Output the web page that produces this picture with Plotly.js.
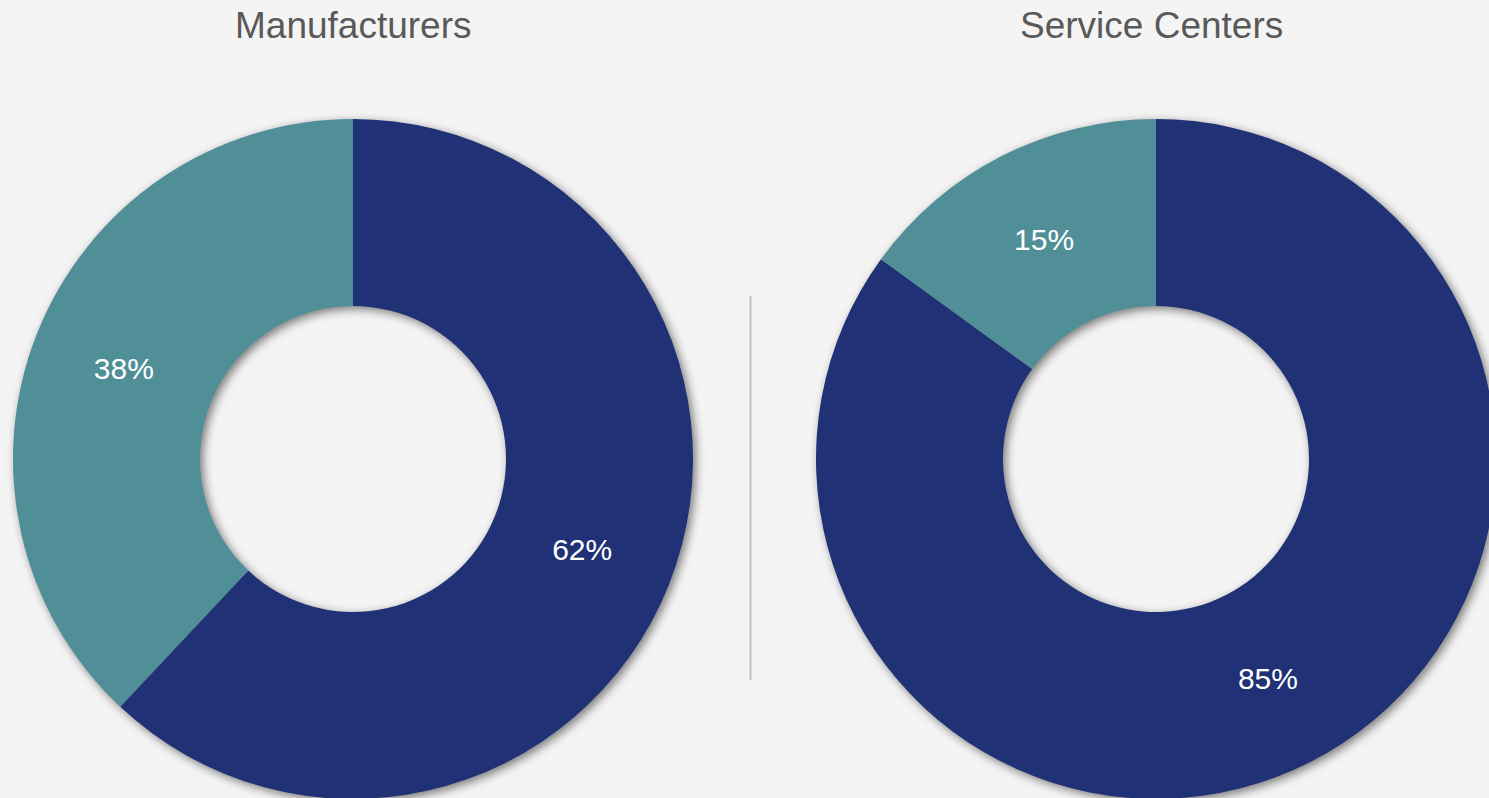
<!DOCTYPE html>
<html>
<head>
<meta charset="utf-8">
<script src="https://cdn.plot.ly/plotly-3.0.1.min.js"></script>
<style>
  html, body { margin: 0; padding: 0; overflow: hidden; background: #f4f4f4; }
  #chart { width: 1500px; height: 800px; }
</style>
</head>
<body>
<div id="chart"></div>
<script>
// ---- data ----
const chartTitles = ["Manufacturers", "Service Centers"];
const sliceLabels = ["Yes", "No"];
const manufacturersValues = [62, 38];
const serviceCentersValues = [85, 15];
const sliceColors = ["#203275", "#518F98"];

const W = 1500, H = 800;
const donuts = [
  { values: manufacturersValues, title: chartTitles[0], cx: 353, titleX: 353, cy: 459, r: 340 },
  { values: serviceCentersValues, title: chartTitles[1], cx: 1156, titleX: 1151.5, cy: 459, r: 340 }
];

const traces = [];
const annotations = [];
donuts.forEach(d => {
  const domain = {
    x: [(d.cx - d.r) / W, (d.cx + d.r) / W],
    y: [Math.max(0, 1 - (d.cy + d.r) / H), 1 - (d.cy - d.r) / H]
  };
  // colored layer (gets the shadow)
  traces.push({
    type: 'pie', labels: sliceLabels, values: d.values, domain: domain,
    hole: 0.45, sort: false, direction: 'clockwise', rotation: 0,
    marker: { colors: sliceColors, line: { width: 0 } },
    textinfo: 'none', hoverinfo: 'none', showlegend: false
  });
  // text layer
  traces.push({
    type: 'pie', labels: sliceLabels, values: d.values, domain: domain,
    hole: 0.45, sort: false, direction: 'clockwise', rotation: 0,
    marker: { colors: ['rgba(0,0,0,0)', 'rgba(0,0,0,0)'], line: { width: 0 } },
    textinfo: 'percent', textposition: 'inside', insidetextorientation: 'horizontal',
    insidetextfont: { family: 'Liberation Sans, Arial, sans-serif', size: 30, color: '#ffffff' },
    hoverinfo: 'none', showlegend: false
  });
  annotations.push({
    text: d.title, xref: 'paper', yref: 'paper',
    x: d.titleX / W, y: 1 - 25 / H, xanchor: 'center', yanchor: 'middle',
    showarrow: false,
    font: { family: 'Liberation Sans, Arial, sans-serif', size: 37, color: '#595959' }
  });
});

const layout = {
  width: W, height: H,
  margin: { l: 0, r: 0, t: 0, b: 0 },
  paper_bgcolor: '#f4f4f4', plot_bgcolor: '#f4f4f4',
  showlegend: false,
  annotations: annotations,
  shapes: [{
    type: 'line', xref: 'paper', yref: 'paper',
    x0: 750.5 / W, x1: 750.5 / W, y0: 1 - 296 / H, y1: 1 - 680 / H,
    line: { color: '#c0c0c0', width: 2 }
  }]
};

Plotly.newPlot('chart', traces, layout, { displayModeBar: false, staticPlot: true }).then(() => {
  const groups = document.querySelectorAll('.pielayer .trace');
  groups.forEach((g, i) => {
    if (i % 2 === 0) g.style.filter = 'drop-shadow(3px 3px 5px rgba(0,0,0,0.5))';
  });
});
</script>
</body>
</html>
